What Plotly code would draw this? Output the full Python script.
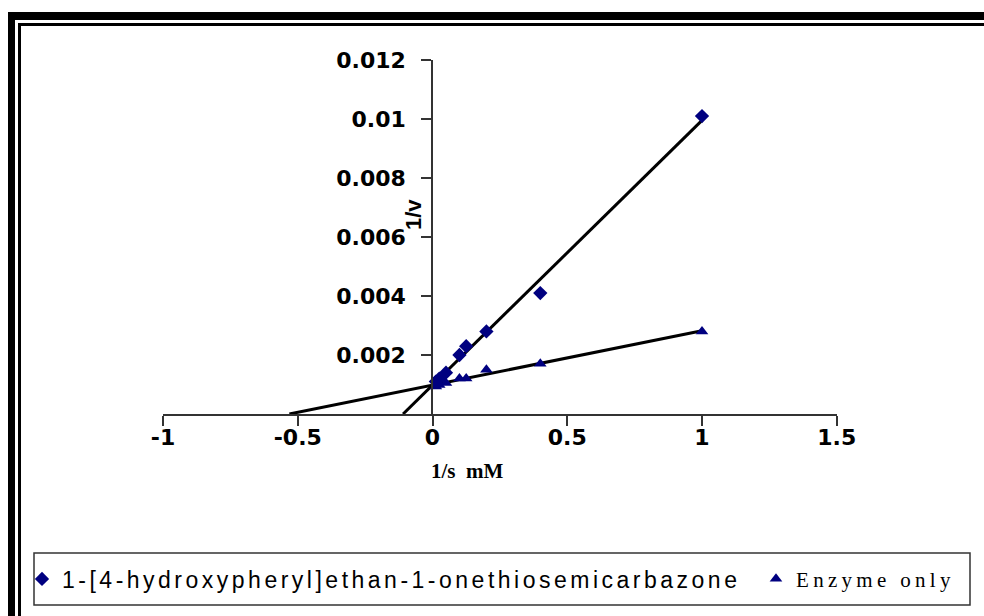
import numpy as np
import plotly.graph_objects as go

# Lineweaver-Burk data: 1/[S] (mM^-1) against 1/v
inv_s = [1.0, 0.4, 0.2, 0.125, 0.1, 0.05, 0.025, 0.0125]
inv_v_inhibitor = [0.0101, 0.0041, 0.0028, 0.0023, 0.0020, 0.0014, 0.0012, 0.0011]
inv_v_enzyme = [0.0028, 0.0017, 0.0015, 0.0012, 0.0012, 0.00105, 0.00098, 0.00093]

inhibitor_name = "1-[4-hydroxypheryl]ethan-1-onethiosemicarbazone"
enzyme_name = "Enzyme only"

x_ticks = [-1, -0.5, 0, 0.5, 1, 1.5]
x_tick_text = ["-1", "-0.5", "0", "0.5", "1", "1.5"]
y_ticks = [0.002, 0.004, 0.006, 0.008, 0.010, 0.012]
y_tick_text = ["0.002", "0.004", "0.006", "0.008", "0.01", "0.012"]

W, H = 984, 616
MARKER = "#000080"


def px(x):
    return x / W


def py(y):
    return 1 - y / H


def trend(xs, ys):
    """Linear fit extended back to the x-intercept and forward to the last point."""
    m, b = np.polyfit(xs, ys, 1)
    x_line = np.array([-b / m, max(xs)])
    return x_line, m * x_line + b


fig = go.Figure()

for ys in (inv_v_inhibitor, inv_v_enzyme):
    lx, ly = trend(inv_s, ys)
    fig.add_trace(go.Scatter(x=lx, y=ly, mode="lines", showlegend=False,
                             line=dict(color="black", width=3), hoverinfo="skip"))

fig.add_trace(go.Scatter(
    x=inv_s, y=inv_v_inhibitor, mode="markers",
    name=f'<span style="letter-spacing:3.5px">{inhibitor_name}</span>',
    marker=dict(symbol="diamond", size=11, color=MARKER), legend="legend"))
fig.add_trace(go.Scatter(
    x=inv_s, y=inv_v_enzyme, mode="markers",
    name=f'<span style="letter-spacing:4.3px">{enzyme_name}</span>',
    marker=dict(symbol="triangle-up", size=11, color=MARKER), legend="legend2"))

axis_color = "#333333"
tick_font = dict(family="DejaVu Sans", size=22, color="black", weight="bold")

fig.update_layout(
    width=W, height=H,
    margin=dict(l=0, r=0, t=0, b=0, pad=0, autoexpand=False),
    paper_bgcolor="white", plot_bgcolor="white",
    xaxis=dict(
        domain=[px(163), px(836.75)], range=[-1, 1.5],
        tickvals=x_ticks, ticktext=x_tick_text, tickfont=tick_font,
        ticks="outside", ticklen=10, tickwidth=1.5, tickcolor=axis_color,
        ticklabelstandoff=-7,
        showline=True, linecolor=axis_color, linewidth=1.5,
        showgrid=False, zeroline=False,
    ),
    yaxis=dict(
        domain=[py(414), py(60)], range=[0, 0.012],
        anchor="free", position=px(432),
        tickvals=y_ticks, ticktext=y_tick_text, tickfont=tick_font,
        ticks="outside", ticklen=10, tickwidth=1.5, tickcolor=axis_color,
        ticklabelstandoff=11,
        showline=True, linecolor=axis_color, linewidth=1.5,
        showgrid=False, zeroline=False,
    ),
    legend=dict(
        orientation="h", x=px(22), xanchor="left", y=py(579), yanchor="middle",
        bgcolor="rgba(0,0,0,0)", borderwidth=0,
        font=dict(family="Liberation Sans", size=23, color="black"),
    ),
    legend2=dict(
        orientation="h", x=px(756), xanchor="left", y=py(579), yanchor="middle",
        bgcolor="rgba(0,0,0,0)", borderwidth=0,
        font=dict(family="Liberation Serif", size=21, color="black"),
    ),
    annotations=[
        dict(text="<b>1/v</b>", x=px(413), y=py(215), xref="paper", yref="paper",
             xanchor="center", yanchor="middle", showarrow=False, textangle=-90,
             font=dict(family="Liberation Sans", size=22, color="black")),
        dict(text="<b>1/s  mM</b>", x=px(467), y=py(471), xref="paper", yref="paper",
             xanchor="center", yanchor="middle", showarrow=False,
             font=dict(family="Liberation Serif", size=21, color="black")),
    ],
    shapes=[
        # double frame: heavy outer rule and thin inner rule
        dict(type="rect", xref="paper", yref="paper", x0=px(8), x1=px(15), y0=py(616), y1=py(12),
             fillcolor="black", line_width=0),
        dict(type="rect", xref="paper", yref="paper", x0=px(8), x1=px(984), y0=py(20), y1=py(12),
             fillcolor="black", line_width=0),
        dict(type="rect", xref="paper", yref="paper", x0=px(18), x1=px(21), y0=py(616), y1=py(23),
             fillcolor="black", line_width=0),
        dict(type="rect", xref="paper", yref="paper", x0=px(18), x1=px(984), y0=py(26), y1=py(23),
             fillcolor="black", line_width=0),
        # legend box
        dict(type="rect", xref="paper", yref="paper", x0=px(34), x1=px(970), y0=py(605), y1=py(553),
             line=dict(color=axis_color, width=1.5), fillcolor="rgba(0,0,0,0)"),
    ],
)

fig.write_html("out.html")
